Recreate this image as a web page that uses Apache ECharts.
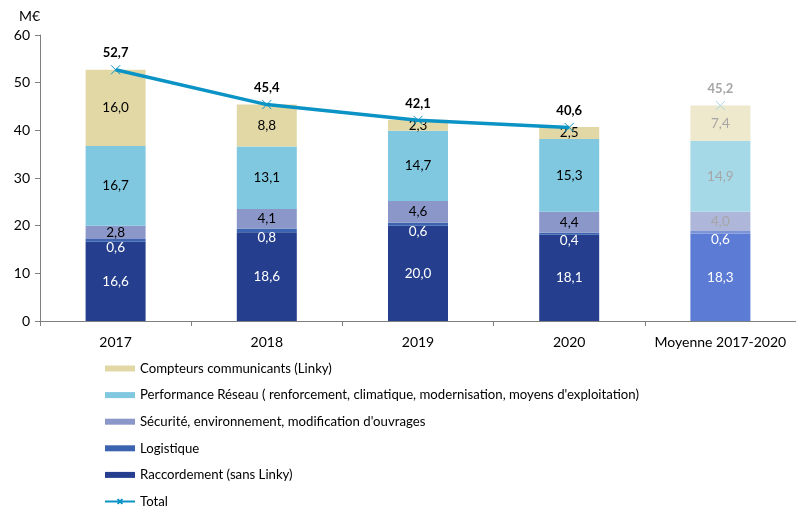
<!DOCTYPE html>
<html>
<head>
<meta charset="utf-8">
<script src="https://cdn.jsdelivr.net/npm/echarts@6/dist/echarts.min.js"></script>
<style>
    html, body { margin: 0; padding: 0; background: #fff; }
    #chart { width: 796px; height: 508px; }
</style>
</head>
<body>
<div id="chart"></div>
<script>
    // catégories et valeurs (M€)
    var categories = ['2017', '2018', '2019', '2020', 'Moyenne 2017-2020'];
    var raccordement = [16.6, 18.6, 20.0, 18.1, 18.3];
    var logistique = [0.6, 0.8, 0.6, 0.4, 0.6];
    var securite = [2.8, 4.1, 4.6, 4.4, 4.0];
    var performance = [16.7, 13.1, 14.7, 15.3, 14.9];
    var compteurs = [16.0, 8.8, 2.3, 2.5, 7.4];
    var total = [52.7, 45.4, 42.1, 40.6, 45.2];

    var FONT = 'Lato';

    function fmt(v) {
        return v.toFixed(1).replace('.', ',');
    }

    /** construit une série de barres, la dernière colonne (moyenne) en couleur atténuée */
    function barSerie(name, values, color, fadeColor, labelColor, fadeLabel, offsetY) {
        var data = values.map(function (v, i) {
            if (i === 4) {
                return {value: v, itemStyle: {color: fadeColor}, label: {color: fadeLabel}};
            }
            return v;
        });
        return {
            name: name,
            type: 'bar',
            stack: 'tot',
            barWidth: 60,
            itemStyle: {color: color},
            label: {
                show: true,
                position: 'inside',
                offset: [0, offsetY || 0],
                color: labelColor,
                fontFamily: FONT,
                fontSize: 13.5,
                formatter: function (p) { return fmt(p.value); }
            },
            data: data
        };
    }

    var totalLine = total.map(function (v, i) { return i < 4 ? v : '-'; });
    var totalMoy = total.map(function (v, i) { return i === 4 ? v : '-'; });
    var crossPath = 'path://M0,0L10,10M10,0L0,10';

    var chart = echarts.init(document.getElementById('chart'));
    chart.setOption({
        animation: false,
        grid: {left: 40, right: 0, top: 35, bottom: 187},
        legend: {
            orient: 'vertical',
            left: 99,
            top: 357,
            height: 220,
            itemWidth: 30,
            itemHeight: 6,
            itemGap: 13.6,
            textStyle: {fontFamily: FONT, fontSize: 13.2, color: '#000'},
            data: [
                {name: 'Compteurs communicants (Linky)', icon: 'rect'},
                {name: "Performance Réseau ( renforcement, climatique, modernisation, moyens d'exploitation)", icon: 'rect'},
                {name: "Sécurité, environnement, modification d'ouvrages", icon: 'rect'},
                {name: 'Logistique', icon: 'rect'},
                {name: 'Raccordement (sans Linky)', icon: 'rect'},
                {name: 'Total'}
            ]
        },
        xAxis: {
            type: 'category',
            data: categories,
            axisLine: {lineStyle: {color: '#7f7f7f'}},
            axisTick: {show: true, interval: 0, length: 5, lineStyle: {color: '#7f7f7f'}},
            axisLabel: {interval: 0, fontFamily: FONT, fontSize: 14, color: '#000', margin: 14}
        },
        yAxis: {
            type: 'value',
            min: 0,
            max: 60,
            interval: 10,
            name: 'M€',
            nameLocation: 'end',
            nameGap: 12,
            nameTextStyle: {fontFamily: FONT, fontSize: 14, color: '#000', align: 'right'},
            splitLine: {show: false},
            axisLine: {show: true, lineStyle: {color: '#7f7f7f'}},
            axisTick: {show: true, length: 5, lineStyle: {color: '#7f7f7f'}},
            axisLabel: {fontFamily: FONT, fontSize: 14, color: '#000', margin: 10}
        },
        series: [
            barSerie('Raccordement (sans Linky)', raccordement, '#253f8e', '#5b7bd5', '#fff', '#fff'),
            barSerie('Logistique', logistique, '#3b63b0', '#7b93d8', '#fff', '#fff', 7),
            barSerie("Sécurité, environnement, modification d'ouvrages", securite, '#8a97c8', '#aeb6d9', '#000', '#a6a6a6'),
            barSerie("Performance Réseau ( renforcement, climatique, modernisation, moyens d'exploitation)", performance, '#80c8e0', '#a6d9e7', '#000', '#a6a6a6'),
            barSerie('Compteurs communicants (Linky)', compteurs, '#e2d8a6', '#eee8cc', '#000', '#a6a6a6'),
            {
                name: 'Total',
                type: 'line',
                data: totalLine,
                symbol: crossPath,
                symbolSize: 9,
                lineStyle: {color: '#0b93c5', width: 3.5},
                itemStyle: {color: '#0b93c5', borderColor: '#0b93c5', borderWidth: 1},
                label: {
                    show: true,
                    position: 'top',
                    distance: 5,
                    color: '#000',
                    fontWeight: 'bold',
                    fontFamily: FONT,
                    fontSize: 13,
                    formatter: function (p) { return fmt(p.value); }
                },
                z: 5
            },
            {
                name: 'Total moyenne',
                type: 'line',
                data: totalMoy,
                symbol: crossPath,
                symbolSize: 9,
                lineStyle: {width: 0},
                itemStyle: {color: '#a9d6e6', borderColor: '#a9d6e6', borderWidth: 1},
                label: {
                    show: true,
                    position: 'top',
                    distance: 5,
                    color: '#a6a6a6',
                    fontWeight: 'bold',
                    fontFamily: FONT,
                    fontSize: 13,
                    formatter: function (p) { return fmt(p.value); }
                },
                z: 5
            }
        ]
    });
</script>
</body>
</html>
